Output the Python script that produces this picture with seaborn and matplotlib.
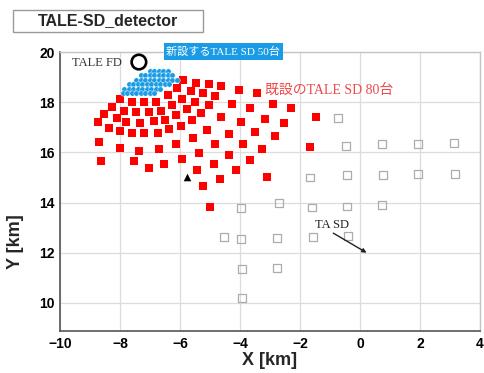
import numpy as np
import seaborn as sns
import matplotlib.pyplot as plt
from matplotlib.patches import Rectangle

# existing TALE SD (red squares), positions in km
red_x = [-5.89, -5.47, -5.03, -4.63, -4.02, -3.42, -6.09, -5.64, -5.22, -4.82, -6.41,
         -8.00, -7.60, -7.20, -6.81, -6.26, -5.93, -5.49, -5.04, -4.28, -3.67, -2.91, -2.31,
         -8.26, -7.87, -7.47, -7.04, -6.63, -6.13, -5.77, -5.31, -4.63, -3.97, -3.17, -2.53,
         -8.52, -8.11, -7.80, -7.33, -6.86, -6.50, -5.98, -5.61, -5.11, -4.38, -3.51, -2.83,
         -8.74, -8.38, -8.00, -7.59, -7.19, -6.72, -6.37, -5.58, -4.83, -3.89, -3.26,
         -8.69, -7.99, -7.37, -6.70, -6.14, -5.37, -4.88, -4.36, -3.66,
         -8.62, -7.53, -7.02, -6.54, -5.93, -5.42, -4.66, -4.12, -3.09,
         -5.22, -5.00, -1.47, -1.67]
red_y = [18.88, 18.78, 18.72, 18.64, 18.49, 18.35, 18.57, 18.46, 18.35, 18.25, 18.29,
         18.13, 18.02, 17.99, 18.02, 17.89, 18.13, 17.99, 17.89, 17.91, 17.75, 17.91, 17.75,
         17.82, 17.66, 17.60, 17.60, 17.66, 17.49, 17.72, 17.58, 17.40, 17.22, 17.33, 17.18,
         17.52, 17.36, 17.22, 17.16, 17.26, 17.29, 17.04, 17.29, 16.89, 16.73, 16.80, 16.65,
         17.22, 16.98, 16.84, 16.76, 16.76, 16.76, 16.92, 16.59, 16.33, 16.33, 16.12,
         16.40, 16.17, 16.05, 16.15, 16.32, 15.99, 15.54, 15.88, 15.68,
         15.67, 15.64, 15.38, 15.55, 15.74, 15.29, 14.94, 15.29, 15.03,
         14.66, 13.84, 17.41, 16.20]

# new TALE SD infill (blue dots), one list per row
blue_rows_y = [19.25, 19.07, 18.89, 18.71, 18.53, 18.37]
blue_rows_x = [
    [-7.00, -6.85, -6.70, -6.55, -6.40],
    [-7.30, -7.15, -7.00, -6.85, -6.70, -6.55, -6.40, -6.25],
    [-7.45, -7.30, -7.15, -7.00, -6.85, -6.70, -6.55, -6.40, -6.25, -6.10],
    [-7.70, -7.55, -7.40, -7.25, -7.10, -6.95, -6.80, -6.65, -6.50, -6.35],
    [-7.85, -7.70, -7.55, -7.40, -7.25, -7.10, -6.95, -6.80, -6.65],
    [-7.90, -7.75, -7.60, -7.45, -7.30, -7.15, -7.00, -6.85],
]

# TA SD (open gray squares)
ta_x = [-0.72, -0.47, 0.73, 1.92, 3.13,
        -1.67, -0.44, 0.76, 1.94, 3.16,
        -3.98, -2.70, -1.60, -0.43, 0.73,
        -4.53, -3.98, -2.78, -1.58, -0.39,
        -3.94, -2.76, -3.93]
ta_y = [17.36, 16.27, 16.33, 16.33, 16.36,
        15.00, 15.10, 15.10, 15.14, 15.15,
        13.77, 13.97, 13.80, 13.84, 13.90,
        12.62, 12.55, 12.60, 12.64, 12.67,
        11.35, 11.38, 10.19]

fd_x, fd_y = [-7.37], [19.60]
tri_x, tri_y = [-5.77], [15.00]

blue_x = [x for row in blue_rows_x for x in row]
blue_y = [y for y, row in zip(blue_rows_y, blue_rows_x) for _ in row]

sns.set_style("white")
plt.rcParams['font.family'] = ['Liberation Sans', 'DejaVu Sans']
serif_jp = ['Liberation Serif', 'Noto Sans CJK JP']

fig = plt.figure(figsize=(4.84, 3.73), dpi=100)
ax = fig.add_axes([60/484, 42/373, 420/484, 279/373])

sns.scatterplot(x=ta_x, y=ta_y, marker='s', s=32, facecolor='none',
                edgecolor='#acacac', linewidth=0.9, ax=ax, zorder=3)
sns.scatterplot(x=red_x, y=red_y, marker='s', s=30, color='#ff0000',
                linewidth=0, ax=ax, zorder=4)
sns.scatterplot(x=blue_x, y=blue_y, marker='o', s=15, color='#1a9be6',
                edgecolor='white', linewidth=0.3, ax=ax, zorder=5)
sns.scatterplot(x=tri_x, y=tri_y, marker='^', s=30, color='black',
                linewidth=0, ax=ax, zorder=5)
sns.scatterplot(x=fd_x, y=fd_y, marker='o', s=110, facecolor='none',
                edgecolor='black', linewidth=1.9, ax=ax, zorder=6)

ax.set_xlim(-10, 4)
ax.set_ylim(8.88, 20)
ax.set_xticks(np.arange(-10, 5, 2))
ax.set_yticks(np.arange(10, 21, 2))
ax.set_xticks(np.arange(-10, 4.1, 0.5), minor=True)
ax.set_yticks(np.arange(9, 20.1, 0.5), minor=True)
ax.set_xticklabels(['\u221210', '\u22128', '\u22126', '\u22124', '\u22122', '0', '2', '4'])
ax.grid(True, which='major', color='#dcdcdc', lw=0.9)
ax.set_axisbelow(True)
ax.tick_params(which='both', direction='in', colors='#555555', labelcolor='black',
               labelsize=10, pad=4)
ax.tick_params(which='major', length=6, width=1)
ax.tick_params(which='minor', length=3.5, width=0.8)
for lab in ax.get_xticklabels() + ax.get_yticklabels():
    lab.set_fontweight('bold')
for side in ['left', 'bottom']:
    ax.spines[side].set_color('#555555')
    ax.spines[side].set_linewidth(1.2)
for side in ['top', 'right']:
    ax.spines[side].set_color('#c4c4c4')
    ax.spines[side].set_linewidth(1.0)

ax.set_xlabel('X [km]', fontsize=13, fontweight='bold')
ax.set_ylabel('Y [km]', fontsize=13, fontweight='bold')
ax.xaxis.set_label_coords(0.5, -0.075)
ax.yaxis.set_label_coords(-0.085, 0.32)

ax.text(-9.6, 19.56, 'TALE FD', family=serif_jp, fontsize=9, color='#333333',
        va='center', ha='left')
ax.text(-6.45, 20.02, '新設するTALE SD 50台', family=serif_jp, fontsize=8.0,
        color='white', va='center', ha='left', clip_on=False, zorder=7,
        bbox=dict(boxstyle='square,pad=0.25', fc='#1a9be6', ec='none'))
ax.text(-3.17, 18.49, '既設のTALE SD 80台', family=serif_jp, fontsize=10,
        color='#f04848', va='center', ha='left')
ax.text(-0.93, 13.11, 'TA SD', family=serif_jp, fontsize=9, color='#222222',
        va='center', ha='center')
ax.annotate('', xy=(0.22, 12.0), xytext=(-0.89, 12.78),
            arrowprops=dict(arrowstyle='-|>', lw=1.0, color='#222222',
                            mutation_scale=6, shrinkA=0, shrinkB=0))

# title box
fig.patches.append(Rectangle((13/484, 1 - 32/373), 190/484, 22/373,
                             transform=fig.transFigure, fc='white',
                             ec='#999999', lw=1))
fig.text(108/484, 1 - 21/373, 'TALE-SD_detector', fontsize=11.5,
         fontweight='bold', ha='center', va='center')

fig.savefig('out.png', dpi=100)
